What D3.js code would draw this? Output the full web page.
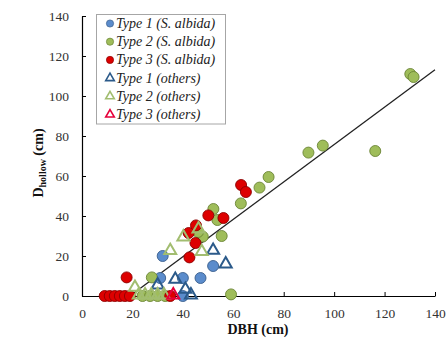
<!DOCTYPE html>
<html>
<head>
<meta charset="utf-8">
<script src="https://cdn.jsdelivr.net/npm/d3@7"></script>
<style>
  body { margin: 0; background: #fff; }
  text { font-family: "Liberation Serif", "Times New Roman", serif; }
</style>
</head>
<body>
<svg id="chart" width="448" height="340"></svg>
<script>
// DBH vs hollow diameter
const type1Albida = [[32, 20], [31, 9], [40, 9], [47, 9], [52, 15], [40, 0]];
const type2Albida = [[130.2, 111], [131.5, 109.5], [89.8, 71.7], [95.5, 75.2], [116.3, 72.5],
  [74, 59.5], [70.4, 54.2], [63, 46.3], [52.1, 43.5], [53.7, 38], [55.4, 30], [47.9, 29.7],
  [46, 32], [27.7, 9.3], [59.1, 0.8], [24, 0], [27, 0], [30, 0], [33, 0]];
const type3Albida = [[63.1, 55.5], [65, 52], [50.1, 40.3], [56.1, 39], [45.2, 35.3], [42.3, 31.5],
  [45, 26.5], [42.6, 19.3], [17.7, 9.3], [9, 0], [11, 0], [13, 0], [15, 0], [17, 0], [19, 0], [35, 0]];
const type1Others = [[52, 22.3], [57, 15.5], [37, 7.8], [30, 5], [41, 2.8], [43.2, 0]];
const type2Others = [[35, 22.2], [40.2, 29], [46.2, 33], [47.5, 21.7], [21, 3.8],
  [22.5, 0], [25, 0], [27.5, 0], [30, 0], [32.5, 0]];
const type3Others = [[36.2, 0]];
const fitLine = [[19, 0], [140, 113.1]];
const xTicks = [0, 20, 40, 60, 80, 100, 120, 140];
const yTicks = [0, 20, 40, 60, 80, 100, 120, 140];

const FONT = "'Liberation Serif', 'Times New Roman', serif";

const series = [
  { name: "Type 1 (S. albida)", data: type1Albida, shape: "circle", fill: "#5b8ccc", stroke: "#3a5f8c" },
  { name: "Type 2 (S. albida)", data: type2Albida, shape: "circle", fill: "#9fbd5a", stroke: "#6b8436" },
  { name: "Type 3 (S. albida)", data: type3Albida, shape: "circle", fill: "#dd0000", stroke: "#8c0000" },
  { name: "Type 1 (others)", data: type1Others, shape: "triangle", stroke: "#2b5a8a" },
  { name: "Type 2 (others)", data: type2Others, shape: "triangle", stroke: "#a2bd70" },
  { name: "Type 3 (others)", data: type3Others, shape: "triangle", stroke: "#e6003a" }
];

const svg = d3.select("#chart");

const x = d3.scaleLinear().domain([0, 140]).range([82, 435]);
const y = d3.scaleLinear().domain([0, 140]).range([296, 16]);

// axes with inside ticks
const xAxis = svg.append("g")
  .attr("transform", `translate(0,${y(0)})`)
  .call(d3.axisBottom(x).tickValues(xTicks).tickSizeInner(-4).tickSizeOuter(0).tickPadding(12));
const yAxis = svg.append("g")
  .attr("transform", `translate(${x(0)},0)`)
  .call(d3.axisLeft(y).tickValues(yTicks).tickSizeInner(-4).tickSizeOuter(0).tickPadding(13));

[xAxis, yAxis].forEach(a => {
  a.attr("font-family", FONT).attr("font-size", 13.5);
  a.select(".domain").attr("stroke", "#000").attr("stroke-width", 1.2);
  a.selectAll(".tick line").attr("stroke", "#000");
  a.selectAll(".tick text").attr("fill", "#333");
});

// regression line
svg.append("line")
  .attr("x1", x(fitLine[0][0])).attr("y1", y(fitLine[0][1]))
  .attr("x2", x(fitLine[1][0])).attr("y2", y(fitLine[1][1]))
  .attr("stroke", "#222").attr("stroke-width", 1.3);

const tri = d3.symbol().type(d3.symbolTriangle).size(62);

series.forEach(s => {
  const g = svg.append("g");
  if (s.shape === "circle") {
    g.selectAll("circle").data(s.data).enter().append("circle")
      .attr("cx", d => x(d[0])).attr("cy", d => y(d[1]))
      .attr("r", 5.5)
      .attr("fill", s.fill).attr("stroke", s.stroke).attr("stroke-width", 0.9);
  } else {
    g.selectAll("path").data(s.data).enter().append("path")
      .attr("d", tri)
      .attr("transform", d => `translate(${x(d[0])},${y(d[1]) - 1})`)
      .attr("fill", "none").attr("stroke", s.stroke).attr("stroke-width", 2);
  }
});

// axis titles
svg.append("text")
  .attr("x", 258).attr("y", 334)
  .attr("text-anchor", "middle")
  .attr("font-family", FONT)
  .style("font-size", "14px").style("font-weight", "bold")
  .attr("fill", "#111")
  .text("DBH (cm)");

const yTitle = svg.append("text")
  .attr("transform", "translate(43,163) rotate(-90)")
  .attr("text-anchor", "middle")
  .attr("font-family", FONT)
  .style("font-size", "14px").style("font-weight", "bold")
  .attr("fill", "#111");
yTitle.append("tspan").text("D");
yTitle.append("tspan").attr("dy", 3).style("font-size", "10px").text("hollow");
yTitle.append("tspan").attr("dy", -3).text(" (cm)");

// legend
const legend = svg.append("g");
legend.append("rect")
  .attr("x", 96.5).attr("y", 14.5).attr("width", 129).attr("height", 109.5)
  .attr("fill", "#fff").attr("stroke", "#a6a6a6").attr("stroke-width", 1);

const ly = d3.scalePoint().domain(series.map(s => s.name)).range([23.5, 114.5]);
const tri2 = d3.symbol().type(d3.symbolTriangle).size(32);

series.forEach(s => {
  const cy = ly(s.name);
  if (s.shape === "circle") {
    legend.append("circle").attr("cx", 110).attr("cy", cy).attr("r", 3.6)
      .attr("fill", s.fill).attr("stroke", s.stroke).attr("stroke-width", 0.7);
  } else {
    legend.append("path").attr("d", tri2)
      .attr("transform", `translate(110,${cy})`)
      .attr("fill", "none").attr("stroke", s.stroke).attr("stroke-width", 1.6);
  }
  legend.append("text")
    .attr("x", 116).attr("y", cy + 4.5)
    .attr("font-family", FONT)
    .style("font-size", "14px").style("font-style", "italic")
    .attr("fill", "#222")
    .text(s.name);
});
</script>
</body>
</html>
